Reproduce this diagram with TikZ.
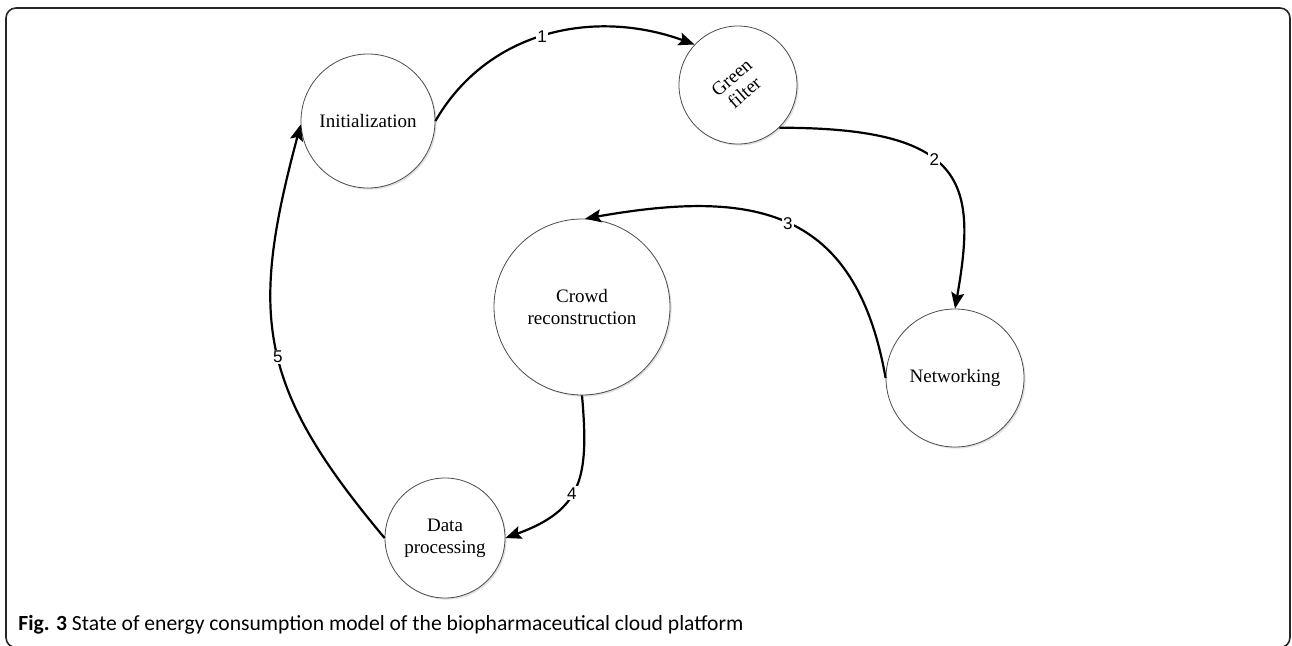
\documentclass[tikz,border=0pt]{standalone}
\usepackage{fontspec}
\setmainfont{Liberation Serif}
\newfontfamily\capfont{Carlito}
\newfontfamily\numfont{Liberation Sans}
\usetikzlibrary{arrows.meta,shadows}

\begin{document}
\begin{tikzpicture}[x=0.5pt,y=0.5pt,
    state/.style={shape=circle, draw=black!70, line width=0.4pt, fill=white, align=center,
        font=\fontsize{9.5}{11}\selectfont,
        drop shadow={shadow xshift=0.8pt, shadow yshift=-0.8pt, fill=black!12, opacity=1}},
    trans/.style={line width=1.1pt, -{Stealth[length=8pt,width=6.5pt,inset=1.5pt]}},
    num/.style={fill=white, inner sep=0.6pt, font=\numfont\fontsize{8.5}{9}\selectfont}]
	\useasboundingbox (0,0) rectangle (1292,645);
	\draw[line width=0.8pt, draw=black!85, rounded corners=5pt] (6,-2.5) rectangle (1290,637);
	% states
	\node[state, minimum size=67pt] (init) at (368,524) {Initialization};
	\node[state, minimum size=59pt] (green) at (738,560) {\rotatebox{41}{\shortstack{Green\\filter}}};
	\node[state, minimum size=69pt] (net) at (955,267) {Networking};
	\node[state, minimum size=88pt] (crowd) at (582,338) {Crowd\\reconstruction};
	\node[state, minimum size=60pt] (data) at (445,107) {Data\\processing};
	% transitions
	\draw[trans] (init.0) to[out=60, in=160] node[num, pos=0.48] {1} (green.137);
	\draw[trans] (green.-46) to[out=0, in=80, out looseness=1.9, in looseness=1.3] node[num, pos=0.43] {2} (net.90);
	\draw[trans] (net.180) to[out=100, in=10, looseness=1.3] node[num, pos=0.5] {3} (crowd.88);
	\draw[trans] (crowd.-90) to[out=-85, in=20, looseness=1.3] node[num, pos=0.55] {4} (data.0);
	\draw[trans] (data.180) to[out=130, in=-105, looseness=1.2] node[num, pos=0.47] {5} (init.183);
	% caption
	\node[anchor=base west, inner sep=0pt, font=\capfont\fontsize{10.8}{12}\selectfont] (cap) at (18,15)
		{\textbf{Fig. 3} State of energy consumption model of the biopharmaceutical cloud platform};
\end{tikzpicture}
\end{document}
